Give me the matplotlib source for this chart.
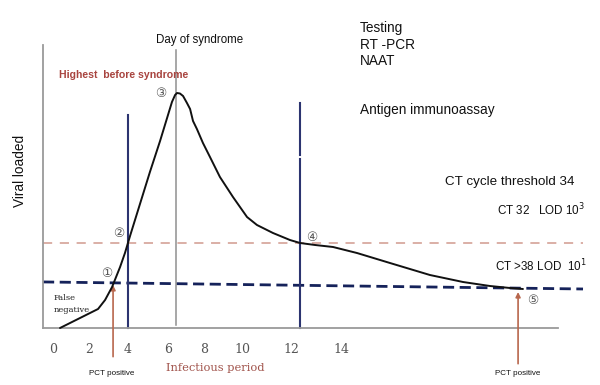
import matplotlib
matplotlib.use("Agg")
import matplotlib.pyplot as plt

# ---- data (x in days, y in relative viral load, peak = 100) ----
curve_x = [0.36, 2.31, 2.67, 3.03, 3.44, 3.69, 3.95, 4.46, 4.97, 5.49, 5.85, 6.10, 6.26, 6.36,
           6.51, 6.67, 6.87, 7.03, 7.18, 7.38, 7.69, 8.05, 8.56, 9.23, 9.95, 10.46, 11.28,
           12.15, 12.67, 13.44, 14.36, 15.59, 17.28, 19.33, 21.03, 22.41, 23.44, 24.10]
curve_y = [0.0, 8.09, 11.91, 17.45, 25.96, 31.91, 39.15, 52.77, 66.38, 79.57, 89.36, 96.17,
           99.15, 100.0, 99.79, 98.72, 95.74, 93.19, 88.09, 84.68, 78.72, 72.77, 64.26, 55.74,
           47.23, 43.83, 40.43, 37.45, 36.17, 35.32, 34.47, 31.91, 27.66, 22.55, 19.57, 17.87,
           17.02, 16.6]

tick_pos = [0, 1.85, 3.85, 5.9, 7.74, 9.74, 12.2, 14.8]
tick_labels = ["0", "2", "4", "6", "8", "10", "12", "14"]

day_syndrome = 6.31
test_lines_x = [3.85, 12.67]
test_lines_top = [90.6, 95.7]
ct32_level = 36.2
ct38_levels = [19.6, 16.6]
pct_positive_x = [3.08, 23.85]
pct_arrow_tops = [18.3, 15.3]

markers = [("①", 2.77, 23.4), ("②", 3.38, 40.4), ("③", 5.54, 99.6),
           ("④", 13.28, 38.7), ("⑤", 24.615, 11.5)]

x_left, x_axis_end, x_dash_end = -0.51, 25.9, 27.18

fig = plt.figure(figsize=(6.0, 3.85), dpi=100)
ax = fig.add_axes([0, 0, 1, 1])
ax.set_xlim(-53 / 19.5, (600 - 53) / 19.5)
ax.set_ylim(-57 / 2.35, 328 / 2.35)
ax.set_facecolor("white")

for s in ["top", "right"]:
    ax.spines[s].set_visible(False)
ax.spines["bottom"].set_position(("data", 0))
ax.spines["bottom"].set_bounds(x_left, x_axis_end)
ax.spines["left"].set_position(("data", x_left))
ax.spines["left"].set_bounds(0, 120.4)
for s in ["bottom", "left"]:
    ax.spines[s].set_color("#9a9a9a")
    ax.spines[s].set_linewidth(1.3)
ax.set_yticks([])
ax.set_xticks(tick_pos)
ax.set_xticklabels(tick_labels, family="DejaVu Serif", fontsize=9, color="#555555")
ax.tick_params(axis="x", length=0, pad=11)

# horizontal threshold lines
ax.plot([x_left, x_dash_end], [ct32_level, ct32_level], color="#d19a8e",
        lw=1.1, dashes=(6, 5), clip_on=False)
ax.plot([x_left, x_dash_end], ct38_levels, color="#15225a",
        lw=2.0, dashes=(4, 2), clip_on=False)

# vertical lines
ax.plot([day_syndrome, day_syndrome], [1.3, 118.3], color="#8f8f8f", lw=1.1)
ax.plot([test_lines_x[0]] * 2, [0, test_lines_top[0]], color="#2c3470", lw=1.5)
ax.plot([test_lines_x[1]] * 2, [0, 71.9], color="#2c3470", lw=1.5)
ax.plot([test_lines_x[1]] * 2, [73.6, test_lines_top[1]], color="#2c3470", lw=1.5)

# viral load curve
ax.plot(curve_x, curve_y, color="#111111", lw=1.4, solid_joinstyle="round",
        solid_capstyle="round", zorder=5)

# arrows
for xa, ta in zip(pct_positive_x, pct_arrow_tops):
    ax.annotate("", xy=(xa, ta), xytext=(xa, ta - 30.5),
                arrowprops=dict(arrowstyle="-|>", color="#b8674d", lw=1.2,
                                mutation_scale=7, shrinkA=0, shrinkB=0),
                annotation_clip=False)

# circled markers
for lab, mx, my in markers:
    ax.text(mx, my, lab, fontsize=9, color="#555555", ha="center", va="center")

sans = "Liberation Sans"
ax.text(7.54, 122.6, "Day of syndrome", family=sans, fontsize=8.3, ha="center", va="center", color="#111111")
ax.text(0.3, 107.6, "Highest  before syndrome", family=sans, fontsize=7.6, ha="left", va="center",
        color="#a8443f", fontweight="bold")
ax.text(15.75, 127.7, "Testing", family=sans, fontsize=9.8, ha="left", va="center", color="#111111")
ax.text(15.75, 120.4, "RT -PCR", family=sans, fontsize=9.8, ha="left", va="center", color="#111111")
ax.text(15.75, 113.6, "NAAT", family=sans, fontsize=9.8, ha="left", va="center", color="#111111")
ax.text(15.75, 92.8, "Antigen immunoassay", family=sans, fontsize=9.8, ha="left", va="center", color="#111111")
ax.text(20.1, 62.1, "CT cycle threshold 34", family=sans, fontsize=9.6, ha="left", va="center", color="#111111")
ax.text(22.77, 50.2, r"CT 32   LOD 10$^{3}$", family=sans, fontsize=8.4, ha="left", va="center", color="#111111")
ax.text(22.67, 26.4, r"CT >38 LOD  10$^{1}$", family=sans, fontsize=8.4, ha="left", va="center", color="#111111")
ax.text(-1.7, 67.0, "Viral loaded", family=sans, fontsize=9.8, rotation=90, ha="center", va="center", color="#111111")
ax.text(0.05, 12.8, "False", family="DejaVu Serif", fontsize=6, ha="left", va="center", color="#222222")
ax.text(0.05, 7.7, "negative", family="DejaVu Serif", fontsize=6, ha="left", va="center", color="#222222")
ax.text(3.03, -19.2, "PCT positive", family=sans, fontsize=5.8, ha="center", va="center", color="#111111")
ax.text(23.85, -19.2, "PCT positive", family=sans, fontsize=5.8, ha="center", va="center", color="#111111")
ax.text(8.3, -17.0, "Infectious period", family="DejaVu Serif", fontsize=8.2, ha="center", va="center",
        color="#a0524a")

fig.savefig("out.png", dpi=100)
